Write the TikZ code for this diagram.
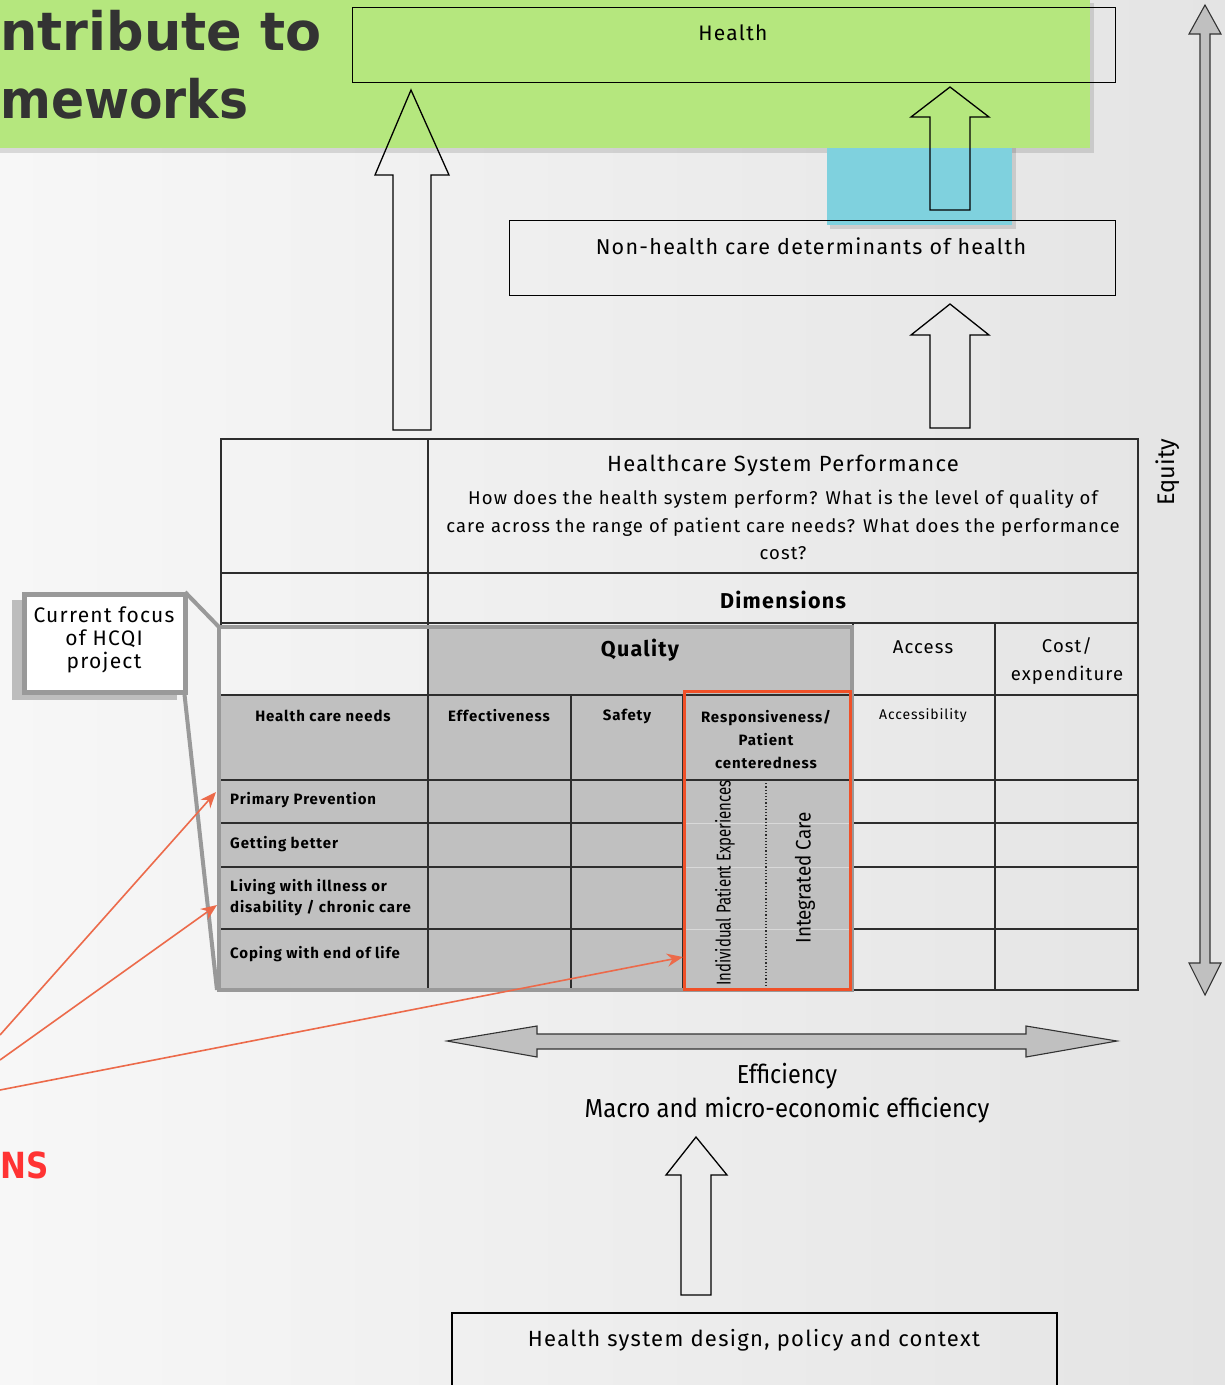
\documentclass[tikz,border=0pt]{standalone}
\usepackage{fontspec}
\usepackage{graphicx}
\setmainfont{Fira Sans}[LetterSpace=6]
\newfontfamily\plainfont{Fira Sans}
\newfontfamily\titlefont{DejaVu Sans}
\usetikzlibrary{arrows.meta}
\definecolor{bgL}{RGB}{247,247,247}
\definecolor{bgR}{RGB}{228,228,228}
\definecolor{bannergreen}{RGB}{181,231,126}
\definecolor{bannerblue}{RGB}{127,209,222}
\definecolor{qgrey}{RGB}{192,192,192}
\definecolor{qborder}{RGB}{153,153,153}
\definecolor{focusred}{RGB}{240,80,40}
\definecolor{pointer}{RGB}{236,106,74}
\definecolor{titlegrey}{RGB}{51,51,51}
\definecolor{nsred}{RGB}{255,51,51}
\definecolor{tline}{RGB}{45,45,45}
\newcommand{\fsz}[1]{\fontsize{#1}{1.2\dimexpr #1pt\relax}\selectfont}
\newcommand{\cond}[2]{\scalebox{#1}[1]{\plainfont #2}}
\begin{document}
\begin{tikzpicture}[x=1pt,y=-1pt,
  boxline/.style={draw=black,line width=1.3pt},
  blockarrow/.style={draw=black,line width=1.3pt,line join=miter},
  grid/.style={draw=tline,line width=1.2pt},
  txt/.style={inner sep=0pt,text=black},
  bold/.style={txt,font=\bfseries},
  pointerarrow/.style={draw=pointer,line width=1.6pt,-{Stealth[length=16pt,width=13pt]}},
]
\useasboundingbox (0,0) rectangle (1225,1385);
% background
\shade[left color=bgL,right color=bgR] (0,0) rectangle (1225,1385);

% green banner and blue tab
\fill[black,opacity=0.12] (0,3) rectangle (1094,153);
\fill[bannergreen] (0,0) rectangle (1090,148);
\fill[black,opacity=0.12] (830,148) rectangle (1016,229);
\fill[bannerblue] (827,148) rectangle (1012,225);

% title fragments
\node[anchor=base west,inner sep=0pt,text=titlegrey,font=\titlefont\bfseries\fsz{53}] (title1) at (0,50) {\scalebox{0.99}[1]{ntribute to}};
\node[anchor=base west,inner sep=0pt,text=titlegrey,font=\titlefont\bfseries\fsz{53}] (title2) at (0,118) {\scalebox{0.92}[1]{meworks}};
\node[anchor=base west,inner sep=0pt,text=nsred,font=\titlefont\bfseries\fsz{36}] (ns) at (0,1178) {\scalebox{0.86}[1]{NS}};

% Health box
\node[boxline,anchor=north west,minimum width=763pt,minimum height=75pt,inner sep=0pt] (health) at (352,7) {};
\node[txt,font=\fsz{21}] (healthtxt) at (733,33) {Health};

% Non-health box
\node[boxline,anchor=north west,minimum width=606pt,minimum height=75pt,inner sep=0pt] (nonhealth) at (509,220) {};
\node[txt,font=\fsz{21.5}] (nonhealthtxt) at (811,246) {Non-health care determinants of health};

% block arrows (up)
\draw[blockarrow] (393,430) -- (393,175) -- (375,175) -- (411,90) -- (449,175) -- (431,175) -- (431,430) -- cycle;
\draw[blockarrow] (930,210) -- (930,117) -- (911,117) -- (950,87) -- (989,117) -- (970,117) -- (970,210) -- cycle;
\draw[blockarrow] (930,428) -- (930,335) -- (911,335) -- (950,304) -- (989,335) -- (970,335) -- (970,428) -- cycle;
\draw[blockarrow] (681,1295) -- (681,1175) -- (666,1175) -- (696,1137) -- (727,1175) -- (711,1175) -- (711,1295) -- cycle;

% Equity arrow
\draw[fill=qgrey,draw=black!80,line width=1.1pt,line join=miter]
  (1205,5) -- (1221,34) -- (1210,34) -- (1210,963) -- (1221,963) -- (1205,995)
  -- (1189,963) -- (1200,963) -- (1200,34) -- (1189,34) -- cycle;
\node[txt,rotate=90,font=\fsz{24}] (equity) at (1168,472) {\cond{0.98}{Equity}};

% Efficiency arrow
\draw[fill=qgrey,draw=black!80,line width=1.1pt,line join=miter]
  (447,1041) -- (537,1026) -- (537,1034) -- (1026,1034) -- (1026,1026) -- (1117,1041)
  -- (1026,1057) -- (1026,1049) -- (537,1049) -- (537,1057) -- cycle;
\node[txt,font=\fsz{26}] (eff) at (787,1076) {\cond{0.9}{Efficiency}};
\node[txt,font=\fsz{26}] (effsub) at (787,1110) {\cond{0.92}{Macro and micro-economic efficiency}};

% bottom box
\draw[boxline] (452,1400) -- (452,1313) -- (1057,1313) -- (1057,1400);
\coordinate (bottombox) at (754,1313);
\node[txt,font=\fsz{22}] (bottomtxt) at (754,1340) {Health system design, policy and context};

% ---------- table ----------
% grey quality region
\fill[qgrey] (428,628) -- (852,628) -- (852,990) -- (219,990) -- (219,695) -- (428,695) -- cycle;

% grid
\draw[grid] (221,627) -- (221,439) -- (1138,439) -- (1138,990) -- (852,990);
\draw[grid] (221,573) -- (1138,573);
\draw[grid] (221,623) -- (1138,623);
\draw[grid] (428,439) -- (428,990);
\draw[grid] (571,695) -- (571,990);
\draw[grid] (683,695) -- (683,990);
\draw[grid] (995,623) -- (995,990);
\draw[grid] (853,623) -- (853,990);
\draw[grid] (219,695) -- (1138,695);
\draw[grid] (219,780) -- (1138,780);
\draw[grid] (219,823) -- (683,823);
\draw[grid] (219,867) -- (683,867);
\draw[grid] (219,929) -- (683,929);
\draw[grid] (853,823) -- (1138,823);
\draw[grid] (853,867) -- (1138,867);
\draw[grid] (853,929) -- (1138,929);
\draw[white!85!black,line width=1pt] (683,823) -- (852,823) (683,867) -- (852,867) (683,929) -- (852,929);
\draw[tline,line width=1.2pt,dotted] (766,780) -- (766,990);

% grey focus border
\draw[qborder,line width=4pt,line join=miter] (219,627) rectangle (852,990);
% red focus box
\draw[focusred,line width=3pt] (684,691) rectangle (850,989);

% table texts
\node[txt,font=\fsz{22}] (perf) at (783,466) {Healthcare System Performance};
\node[txt,font=\fsz{18.5},align=center] (perfq) at (783,525) {How does the health system perform? What is the level of quality of\\[5pt]care across the range of patient care needs? What does the performance\\[5pt]cost?};
\node[bold,font=\bfseries\fsz{21.5}] (dims) at (783,600) {Dimensions};
\node[bold,font=\bfseries\fsz{21.5}] (quality) at (640,650) {Quality};
\node[txt,font=\fsz{18.5}] (access) at (923,647) {Access};
\node[txt,font=\fsz{18.5},align=center] (cost) at (1067,661) {Cost/\\[6pt]expenditure};
\node[bold,font=\bfseries\fsz{15}] (hcneeds) at (323,716) {Health care needs};
\node[bold,font=\bfseries\fsz{15}] (effect) at (499,716) {Effectiveness};
\node[bold,font=\bfseries\fsz{15}] (safety) at (627,716) {Safety};
\node[bold,font=\bfseries\fsz{15},align=center] (resp) at (766,739) {Responsiveness/\\[5pt]Patient\\[5pt]centeredness};
\node[txt,font=\fsz{14}] (accessib) at (923,716) {Accessibility};
\node[bold,font=\bfseries\fsz{15},anchor=west] (prim) at (230,800) {Primary Prevention};
\node[bold,font=\bfseries\fsz{15},anchor=west] (getting) at (230,844) {Getting better};
\node[bold,font=\bfseries\fsz{15},anchor=west,align=left] (living) at (230,898) {Living with illness or\\[3pt]disability / chronic care};
\node[bold,font=\bfseries\fsz{15},anchor=west] (coping) at (230,954) {Coping with end of life};
\node[txt,rotate=90,font=\fsz{20}] (ipe) at (725,883) {\cond{0.75}{Individual Patient Experiences}};
\node[txt,rotate=90,font=\fsz{21}] (ic) at (805,878) {\cond{0.9}{Integrated Care}};

% anchor coordinates on the table
\coordinate (primpt) at (216,792);
\coordinate (livingpt) at (217,905);
\coordinate (redpt) at (683,957);

% callout
\fill[black!26] (12,600) rectangle (177,700);
\draw[qborder,line width=4pt] (185,592) -- (219,627);
\draw[qborder,line width=4pt] (184,690) -- (217,990);
\node[draw=qborder,fill=white,line width=5pt,anchor=north west,minimum width=161pt,minimum height=98pt,inner sep=0pt] (focus) at (22,592) {};
\node[txt,font=\fsz{21},align=center] (focustxt) at (104,640) {Current focus\\[-2pt]of HCQI\\[-2pt]project};

% pointer arrows
\coordinate (src1) at (0,1035);
\coordinate (src2) at (0,1060);
\coordinate (src3) at (0,1090);
\draw[pointerarrow] (src1) -- (primpt);
\draw[pointerarrow] (src2) -- (livingpt);
\draw[pointerarrow] (src3) -- (redpt);
\end{tikzpicture}
\end{document}
